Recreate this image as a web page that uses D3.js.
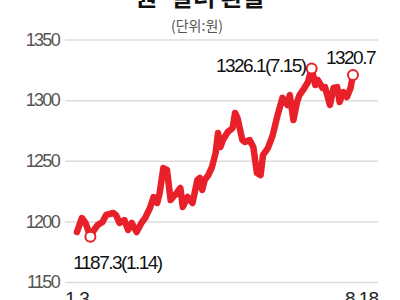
<!DOCTYPE html>
<html>
<head>
<meta charset="utf-8">
<script src="https://cdn.jsdelivr.net/npm/d3@7"></script>
<style>
  body { margin: 0; background: #fff; }
  svg { display: block; }
</style>
</head>
<body>
<div id="chart"></div>
<script>
// 2022 dates (month-day) and KRW/USD rate
var dates = ['01-03','01-07','01-10','01-14','01-17','01-20','01-24','01-27','02-02','02-04',
  '02-07','02-11','02-14','02-17','02-21','02-25','02-28','03-04','03-07','03-10',
  '03-12','03-15','03-18','03-21','03-23','03-26','03-29','03-31','04-04','04-08',
  '04-12','04-14','04-16','04-18','04-21','04-24','04-27','04-29','05-01','05-03',
  '05-07','05-11','05-13','05-15','05-19','05-21','05-25','05-28','05-31','06-03',
  '06-05','06-09','06-13','06-17','06-21','06-25','06-27','06-30','07-03','07-05',
  '07-08','07-12','07-15','07-18','07-20','07-24','07-26','07-30','08-02','08-05',
  '08-07','08-10','08-13','08-16','08-18'];
var rates = [1191.2,1202.8,1198.7,1187.3,1192.9,1197.0,1199.5,1205.3,1206.9,1205.3,
  1198.7,1201.1,1192.9,1198.7,1191.2,1198.7,1202.8,1211.0,1220.1,1215.1,
  1223.4,1244.0,1242.4,1217.6,1220.1,1223.4,1227.5,1211.9,1220.1,1215.1,
  1234.1,1235.8,1225.9,1234.1,1238.2,1244.8,1256.4,1272.9,1261.3,1267.1,
  1273.7,1277.0,1289.4,1285.3,1267.1,1265.5,1267.1,1261.3,1239.9,1238.2,
  1254.7,1260.5,1271.2,1287.7,1301.8,1296.0,1304.2,1283.6,1298.5,1304.2,
  1308.4,1315.0,1326.1,1312.5,1316.6,1310.0,1310.8,1296.0,1310.0,1310.8,
  1298.5,1306.7,1302.6,1310.0,1320.7];
var yTicks = [1150, 1200, 1250, 1300, 1350];
var xLabels = ['1.3', '8.18'];
// highlighted points: index into the series, label text
var marks = [[3, '1187.3(1.14)'], [62, '1326.1(7.15)'], [74, '1320.7']];

var parse = d3.timeParse('%Y-%m-%d');
var data = dates.map(function(d, i){ return {date: parse('2022-' + d), value: rates[i]}; });

var svg = d3.select('#chart').append('svg')
    .attr('width', 400)
    .attr('height', 300)
    .attr('viewBox', '0 0 400 300');

var xScale = d3.scaleTime()
    .domain(d3.extent(data, function(d){ return d.date; }))
    .range([77, 353]);

var yScale = d3.scaleLinear()
    .domain([1150, 1350])
    .range([282, 39.5]);

// title (cut at the top in the original)
svg.append('text')
    .attr('x', 200).attr('y', 6)
    .attr('text-anchor', 'middle')
    .style('font-family', '"Noto Sans CJK KR", sans-serif')
    .style('font-weight', 'bold')
    .style('font-size', '24px')
    .style('fill', '#111')
    .text('원·달러 환율');

svg.append('text')
    .attr('x', 197).attr('y', 31)
    .attr('text-anchor', 'middle')
    .style('font-family', '"Noto Sans CJK KR", sans-serif')
    .style('font-size', '14px')
    .style('fill', '#555')
    .text('(단위:원)');

var yAxis = d3.axisLeft(yScale)
    .tickValues(yTicks)
    .tickSize(-313)
    .tickPadding(6)
    .tickFormat(d3.format('d'));

var gy = svg.append('g')
    .attr('transform', 'translate(65,0)')
    .call(yAxis);
gy.select('.domain').remove();
gy.selectAll('line')
    .attr('stroke', '#dcdcdc')
    .attr('stroke-width', 1.5);
gy.selectAll('text')
    .attr('x', -6)
    .style('font-family', '"Liberation Sans", Arial, sans-serif')
    .style('font-size', '18px')
    .style('letter-spacing', '-1.7px')
    .style('fill', '#555');

// x labels: first and last date
svg.append('text')
    .attr('x', xScale(data[0].date)).attr('y', 305)
    .attr('text-anchor', 'middle')
    .style('font-family', '"Liberation Sans", Arial, sans-serif')
    .style('font-size', '19px')
    .style('letter-spacing', '-1px')
    .style('fill', '#222')
    .text(xLabels[0]);
svg.append('text')
    .attr('x', xScale(data[data.length-1].date) + 25).attr('y', 305)
    .attr('text-anchor', 'end')
    .style('font-family', '"Liberation Sans", Arial, sans-serif')
    .style('font-size', '19px')
    .style('letter-spacing', '-1px')
    .style('fill', '#222')
    .text(xLabels[1]);

var line = d3.line()
    .x(function(d){ return xScale(d.date); })
    .y(function(d){ return yScale(d.value); });

svg.append('path')
    .datum(data)
    .attr('d', line)
    .attr('fill', 'none')
    .attr('stroke', '#e8202a')
    .attr('stroke-width', 6.5)
    .attr('stroke-linejoin', 'round')
    .attr('stroke-linecap', 'round');

svg.selectAll('circle.mark')
    .data(marks)
    .enter()
    .append('circle')
    .attr('class', 'mark')
    .attr('cx', function(d){ return xScale(data[d[0]].date); })
    .attr('cy', function(d){ return yScale(data[d[0]].value); })
    .attr('r', 5)
    .attr('fill', '#fff')
    .attr('stroke', '#e8202a')
    .attr('stroke-width', 2);

// label offsets relative to the marked point
var offs = [[-17, 32, 'start'], [-6, 4, 'end'], [22, -11, 'end']];
svg.selectAll('text.mark')
    .data(marks)
    .enter()
    .append('text')
    .attr('class', 'mark')
    .attr('x', function(d, i){ return xScale(data[d[0]].date) + offs[i][0]; })
    .attr('y', function(d, i){ return yScale(data[d[0]].value) + offs[i][1]; })
    .attr('text-anchor', function(d, i){ return offs[i][2]; })
    .style('font-family', '"Liberation Sans", Arial, sans-serif')
    .style('font-size', '19px')
    .style('letter-spacing', '-1.5px')
    .style('fill', '#111')
    .text(function(d){ return d[1]; });
</script>
</body>
</html>
